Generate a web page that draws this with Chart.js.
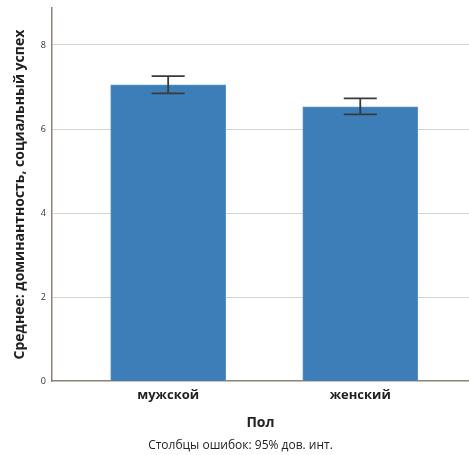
<!DOCTYPE html>
<html><head><meta charset="utf-8">
<script src="https://cdn.jsdelivr.net/npm/chart.js@4/dist/chart.umd.min.js"></script>
<style>html,body{margin:0;padding:0;background:#fff}#w{width:469px;height:455px;position:relative}</style>
</head><body><div id="w"><canvas id="c"></canvas></div>
<script>
const categories = ['мужской', 'женский'];
const means = [7.05, 6.53];
const ciLow = [6.85, 6.35];
const ciHigh = [7.26, 6.73];
const yTicks = [0, 2, 4, 6, 8];

const FONT = "'Open Sans', 'Noto Sans', sans-serif";

const errPlugin = {
  id: 'errbars',
  afterDatasetsDraw(chart) {
    const {ctx, scales: {x, y}} = chart;
    ctx.save();
    ctx.strokeStyle = '#3a3a3a';
    ctx.lineWidth = 1.8;
    categories.forEach((c, i) => {
      const px = x.getPixelForValue(i);
      const t = y.getPixelForValue(ciHigh[i]);
      const b = y.getPixelForValue(ciLow[i]);
      ctx.beginPath();
      ctx.moveTo(px, t); ctx.lineTo(px, b);
      ctx.moveTo(px - 16.5, t); ctx.lineTo(px + 16.5, t);
      ctx.moveTo(px - 16.5, b); ctx.lineTo(px + 16.5, b);
      ctx.stroke();
    });
    ctx.restore();
  }
};

new Chart(document.getElementById('c'), {
  type: 'bar',
  data: {
    datasets: [{
      data: means.map((v, i) => ({x: i, y: v})),
      backgroundColor: '#3d7db8',
      borderColor: '#5b93c6',
      borderWidth: 1,
      barThickness: 115
    }]
  },
  options: {
    responsive: true,
    maintainAspectRatio: false,
    animation: false,
    layout: {padding: {left: 12, right: 0, top: 8, bottom: 0}},
    plugins: {
      legend: {display: false},
      tooltip: {enabled: false},
      title: {display: false},
      subtitle: {
        display: true, position: 'bottom', text: 'Столбцы ошибок: 95% дов. инт.',
        color: '#222', font: {family: FONT, size: 12}, padding: {top: 4, bottom: 2}
      }
    },
    scales: {
      x: {
        type: 'linear', min: -0.605, max: 1.566, offset: false,
        afterBuildTicks: (s) => { s.ticks = categories.map((c, i) => ({value: i})); },
        ticks: {
          callback: (v) => categories[v],
          color: '#222', font: {family: FONT, size: 13, weight: 'bold'}, padding: 6
        },
        grid: {display: false, drawTicks: false, offset: false},
        border: {display: true, color: '#8a8178', width: 1.5},
        title: {
          display: true, text: 'Пол', color: '#222',
          font: {family: FONT, size: 14, weight: 'bold'}, padding: {top: 6, bottom: 3}
        }
      },
      y: {
        min: 0, max: 8.88,
        afterBuildTicks: (s) => { s.ticks = yTicks.map(v => ({value: v})); },
        afterFit: (s) => { s.paddingTop = 0; },
        ticks: {color: '#333', font: {family: FONT, size: 9}, padding: 6},
        grid: {color: (c) => c.tick && c.tick.value === 0 ? 'rgba(0,0,0,0)' : '#d8d4cc', drawTicks: false, lineWidth: 1},
        border: {display: true, color: '#8a8178', width: 1.5},
        title: {
          display: true, text: 'Среднее: доминантность, социальный успех', color: '#222',
          font: {family: FONT, size: 14, weight: 'bold'}, padding: {top: 0, bottom: 6}
        }
      }
    }
  },
  plugins: [errPlugin]
});
</script></body></html>
